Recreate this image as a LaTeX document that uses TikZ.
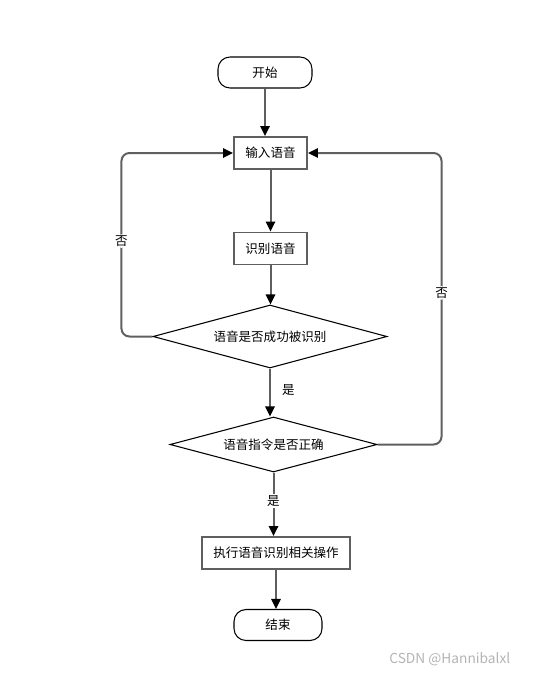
\documentclass[tikz,border=0pt]{standalone}
\usepackage{fontspec}
\setmainfont{Noto Sans CJK SC}
\usetikzlibrary{positioning,arrows.meta,shapes.geometric}
\definecolor{edgegrey}{HTML}{5F5F5F}
\definecolor{markgrey}{HTML}{B4B4B4}
\tikzset{
  term/.style={draw=black,line width=0.8pt,rounded corners=9pt,minimum width=70.5pt,minimum height=23.25pt,align=center},
  procbox/.style={draw=edgegrey,line width=1.4pt,minimum width=54.75pt,minimum height=24pt,align=center},
  decide/.style={diamond,draw=black,line width=0.8pt,inner sep=0pt,align=center},
  flow/.style={-{Triangle[length=7.5pt,width=7pt,color=black]},draw=edgegrey,line width=1.5pt},
  lbl/.style={fill=white,inner sep=1pt}}

\begin{document}
\begin{tikzpicture}[x=0.75pt,y=-0.75pt,font=\fontsize{9.4}{11}\selectfont]
  \useasboundingbox (0,0) rectangle (537,674);
  % main column
  \node[term] (start) at (265,72.5) {开始};
  \node[procbox] (input) at (270.5,153) {输入语音};
  \node[procbox] (recog) at (270.5,248.5) {识别语音};
  \node[decide,minimum width=175.5pt,minimum height=47.25pt,shape aspect=3.7] (ok) at (270,336.5) {语音是否成功被识别};
  \node[decide,minimum width=155.25pt,minimum height=41.25pt,shape aspect=3.76] (right) at (273.5,444.5) {语音指令是否正确};
  \node[procbox,minimum width=111pt] (exec) at (276,553) {执行语音识别相关操作};
  \node[term,minimum width=66pt] (stop) at (278,625) {结束};
  \draw[flow] (start.south) -- (start.south |- input.north);
  \draw[flow] (input.south) -- (recog.north);
  \draw[flow] (recog.south) -- (recog.south |- ok.north);
  \draw[flow] (ok.south) -- (ok.south |- right.north) node[pos=0.45,right=5pt]{是};
  \draw[flow] (right.south) -- (right.south |- exec.north) node[lbl,pos=0.45]{是};
  \draw[flow] (exec.south) -- (exec.south |- stop.north);
  % back loops
  \draw[flow,rounded corners=6pt] (ok.west) -- ++(-31,0) |- (input.west) node[lbl,pos=0.26]{否};
  \draw[flow,rounded corners=6pt] (right.east) -- ++(64,0) |- (input.east) node[lbl,pos=0.26]{否};
  \node[text=markgrey,font=\fontsize{10.3}{12}\selectfont,anchor=east] (mark) at (515,659) {CSDN @Hannibalxl};
\end{tikzpicture}
\end{document}
